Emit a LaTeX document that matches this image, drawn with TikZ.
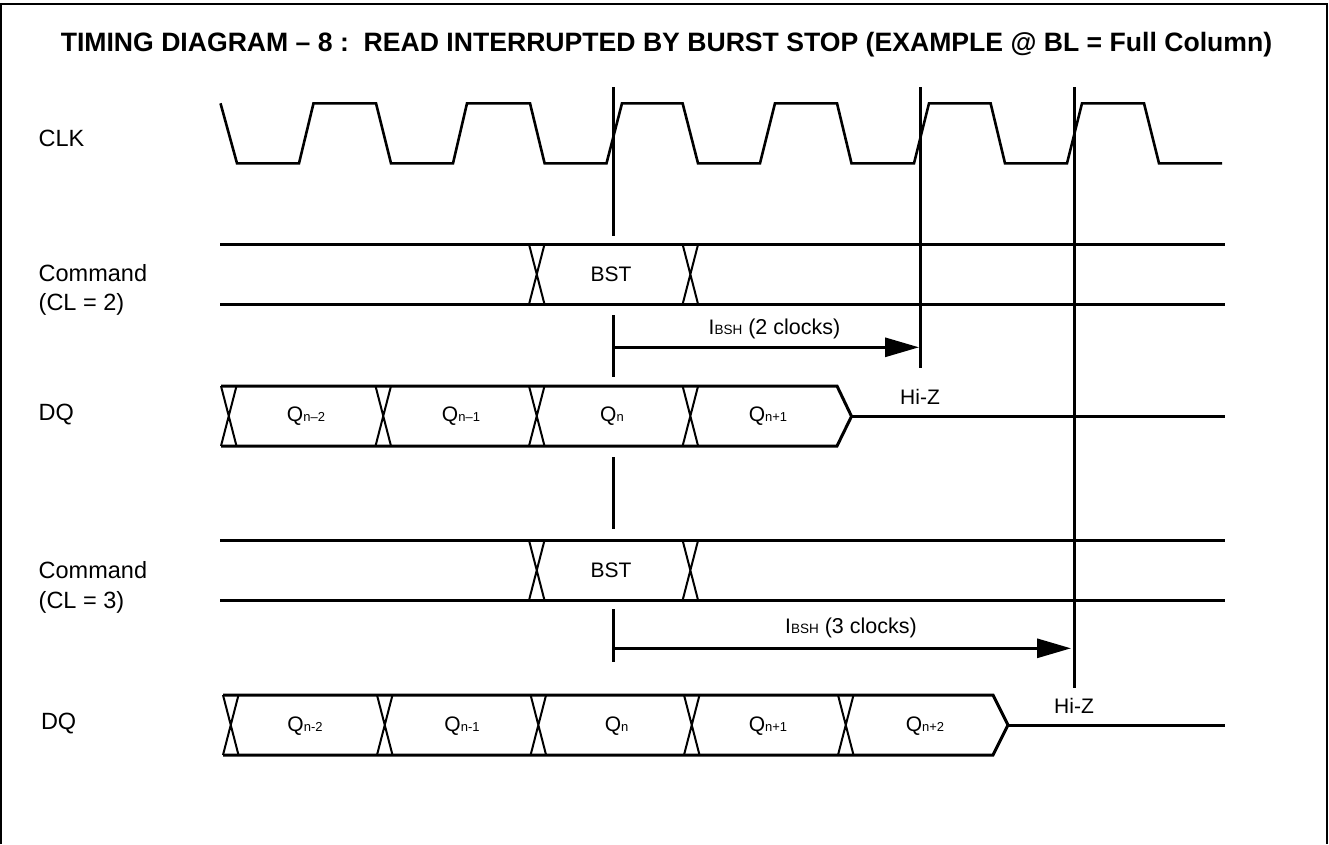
\documentclass[tikz,border=0pt]{standalone}
\usepackage{fontspec}
\setmainfont{Liberation Sans}
\usetikzlibrary{arrows.meta}
\newcommand{\fsz}[1]{\fontsize{#1}{#1}\selectfont}
\newcommand{\qsub}[2][Q]{{\fsz{21}#1\raisebox{-0.5pt}{\fsz{13}#2}}}
\newcommand{\ibsh}[1]{{\fsz{21}I\fsz{13.5}BSH\fsz{21.5} (#1)}}
\tikzset{
  x=1pt,y=-1pt,
  frameline/.style={line width=2.6pt,line join=miter},
  rail/.style={line width=3pt},
  xcross/.style={line width=2pt},
  clockline/.style={line width=2.6pt,line join=miter},
  marker/.style={line width=3pt},
  span/.style={line width=3pt,-{Triangle[length=34pt,width=19pt]},shorten >=0pt},
  sig/.style={inner sep=0pt,outer sep=0pt,anchor=west,align=left,font=\fsz{23.5}},
  val/.style={inner sep=0pt,outer sep=0pt,font=\fsz{21}},
}
\newcommand{\xmark}[2]{\draw[xcross] (#1,#2) -- ++(15.5,60) (#1+15.5,#2) -- ++(-15.5,60);}
\begin{document}
\begin{tikzpicture}
\useasboundingbox (0,0) rectangle (1329,844);
\fill[white] (0,0) rectangle (1329,844);
\draw[frameline] (1,844) -- (1,4) -- (1327,4) -- (1327,844);
\node[inner sep=0pt,font=\bfseries\fsz{26.6}] (title) at (666.5,44.5) {TIMING DIAGRAM -- 8 :\ \ READ INTERRUPTED BY BURST STOP (EXAMPLE @ BL = Full Column)};

% CLK
\draw[clockline] (220.5,103.3) -- (237,163.3) -- (299,163.3) -- (313.5,103.3) -- (376,103.3) -- (391,163.3) -- (453,163.3) -- (467,103.3) -- (530,103.3) -- (544.6,163.3) -- (606.5,163.3) -- (622,103.3) -- (682.6,103.3) -- (698,163.3) -- (760,163.3) -- (775,103.3) -- (837,103.3) -- (851.5,163.3) -- (914,163.3) -- (929,103.3) -- (990.6,103.3) -- (1005,163.3) -- (1067,163.3) -- (1082,103.3) -- (1144,103.3) -- (1159,163.3) -- (1222,163.3);
\node[sig] (lclk) at (38.7,138) {CLK};

% Command CL=2
\draw[rail] (220,244.3) -- (1225,244.3) (220,304.3) -- (1225,304.3);
\xmark{529}{244.3}
\xmark{682.6}{244.3}
\node[val] (bst1) at (611,274) {BST};
\node[sig] (lcmd1) at (38.7,273) {Command};
\node[sig] (lcl2) at (38.7,304) {(CL = 2)};

% DQ CL=2
\draw[rail] (221,386) -- (837,386) -- (851.5,416.3) -- (837,446) -- (221,446);
\draw[rail] (851.5,416.3) -- (1225,416.3);
\xmark{221}{386}
\xmark{375.5}{386}
\xmark{529}{386}
\xmark{682.6}{386}
\node[val] (qa1) at (306,416) {\qsub{n--2}};
\node[val] (qa2) at (461,416) {\qsub{n--1}};
\node[val] (qa3) at (612,416) {\qsub{n}};
\node[val] (qa4) at (768,416) {\qsub{n+1}};
\node[val] (hiz1) at (920,397) {Hi-Z};
\node[sig] (ldq1) at (38.7,415) {DQ};

% Command CL=3
\draw[rail] (220,540.3) -- (1225,540.3) (220,600.3) -- (1225,600.3);
\xmark{529}{540.3}
\xmark{682.6}{540.3}
\node[val] (bst2) at (611,570) {BST};
\node[sig] (lcmd2) at (38.7,570) {Command};
\node[sig] (lcl3) at (38.7,602) {(CL = 3)};

% DQ CL=3
\draw[rail] (223,695) -- (993,695) -- (1008,725) -- (993,755) -- (223,755);
\draw[rail] (1008,725) -- (1225,725);
\xmark{223}{695}
\xmark{377}{695}
\xmark{530.6}{695}
\xmark{684}{695}
\xmark{838}{695}
\node[val] (qb1) at (305,726) {\qsub{n-2}};
\node[val] (qb2) at (462,726) {\qsub{n-1}};
\node[val] (qb3) at (616.6,726) {\qsub{n}};
\node[val] (qb4) at (768,726) {\qsub{n+1}};
\node[val] (qb5) at (925,726) {\qsub{n+2}};
\node[val] (hiz2) at (1074,706) {Hi-Z};
\node[sig] (ldq2) at (41,724) {DQ};

% reference verticals
\draw[marker] (613,87) -- (613,235.7);
\draw[marker] (613,315) -- (613,377);
\draw[marker] (613,457) -- (613,529);
\draw[marker] (613,609) -- (613,662);
\draw[marker] (920,87) -- (920,368);
\draw[marker] (1074,87) -- (1074,687.7);

% spans
\coordinate (s1a) at (613,347.3);
\coordinate (s1b) at (919,347.3);
\coordinate (s2a) at (613,648.3);
\coordinate (s2b) at (1071,648.3);
\draw[span] (s1a) -- (s1b);
\draw[span] (s2a) -- (s2b);
\node[val] (t1) at (774.5,329) {\ibsh{2 clocks}};
\node[val] (t2) at (851,628) {\ibsh{3 clocks}};
\end{tikzpicture}
\end{document}
